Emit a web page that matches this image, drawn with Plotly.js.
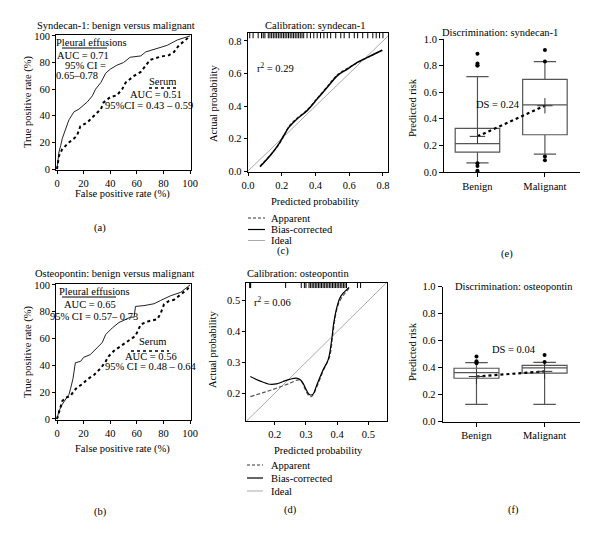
<!DOCTYPE html>
<html><head><meta charset="utf-8">
<script src="https://cdn.plot.ly/plotly-3.0.1.min.js"></script>
<style>body{margin:0;background:#fff}#chart{width:600px;height:537px}</style>
</head><body><div id="chart"></div>
<script>
// ---------- DATA ----------
// (a) ROC syndecan-1
const rocA_pleuralFPR = [0, 1.5, 2.8, 4, 6.5, 9, 12.8, 16.5, 22.8, 26.6, 29, 33, 36.6, 40, 45, 50, 55, 63, 66.7, 73, 83, 90.5, 98, 100];
const rocA_pleuralTPR = [0, 12.8, 17.8, 23, 30, 37, 43, 45, 50.4, 55, 60, 65, 72, 75, 78, 80, 84, 85, 88, 90, 93, 97, 99, 100];
const rocA_serumFPR = [0, 0.75, 1.5, 4, 6.5, 9, 12.8, 15, 17.5, 22.8, 27.8, 33, 35, 40, 45, 49, 51.6, 58, 63, 66.7, 70, 78, 84, 88, 91.7, 96.7, 100];
const rocA_serumTPR = [0, 7.8, 10, 15, 17.8, 20, 23, 25, 32, 35, 40, 45, 50, 54, 55.4, 60, 65, 70, 73, 78, 82, 84.5, 85.5, 88, 93, 97, 100];
// (b) ROC osteopontin
const rocB_pleuralFPR = [0, 1.5, 4, 6.5, 9, 10.3, 12, 13.8, 17.8, 20, 25, 30, 34, 36.6, 41.6, 46.6, 51.6, 55.4, 58, 59, 65.4, 73, 78, 85.5, 93, 98, 100];
const rocB_pleuralTPR = [0, 6, 11, 14.7, 18.4, 23, 30, 42, 43, 46, 48, 53, 57, 63, 68, 72, 74, 76, 76, 84, 84.6, 86, 88.5, 92, 94.5, 98, 100];
const rocB_serumFPR = [0, 1.5, 4, 6.5, 10, 12.8, 15, 19, 22.8, 28, 33, 36.6, 39, 43, 48, 53, 59, 63, 69, 75.4, 78, 80.5, 84, 88, 93, 98, 100];
const rocB_serumTPR = [0, 5, 13.4, 16, 17, 21, 23.4, 26, 29.6, 33, 38, 43, 47, 51, 54.5, 58, 62, 70.6, 73, 74.4, 79, 85.6, 88, 89, 93, 96.8, 100];
// (c) calibration syndecan-1
const calC_pred = [0.071, 0.134, 0.184, 0.213, 0.243, 0.292, 0.352, 0.411, 0.47, 0.53, 0.589, 0.648, 0.708, 0.767, 0.796];
const calC_bias = [0.026, 0.098, 0.169, 0.22, 0.27, 0.322, 0.373, 0.444, 0.515, 0.587, 0.627, 0.668, 0.699, 0.729, 0.743];
const calC_app  = [0.03, 0.1, 0.165, 0.216, 0.276, 0.326, 0.378, 0.449, 0.52, 0.592, 0.632, 0.665, 0.698, 0.728, 0.745];
const calC_rug = [0.01, 0.03, 0.06, 0.08, 0.09, 0.10, 0.12, 0.13, 0.14, 0.15, 0.16, 0.17, 0.18, 0.19, 0.20, 0.21, 0.22, 0.23, 0.24, 0.25, 0.26, 0.27, 0.28, 0.29, 0.30, 0.31, 0.32, 0.33, 0.35, 0.37, 0.39, 0.41, 0.43, 0.45, 0.47, 0.49, 0.52, 0.55, 0.57, 0.60, 0.63, 0.65, 0.68, 0.71, 0.74, 0.76, 0.78, 0.80];
// (d) calibration osteopontin
const calD_predBias = [0.122, 0.152, 0.184, 0.205, 0.227, 0.248, 0.269, 0.28, 0.291, 0.301, 0.312, 0.323, 0.333, 0.355, 0.371, 0.381, 0.389, 0.397, 0.408, 0.419, 0.429, 0.438];
const calD_bias     = [0.254, 0.24, 0.229, 0.23, 0.238, 0.245, 0.249, 0.245, 0.232, 0.211, 0.195, 0.197, 0.222, 0.276, 0.308, 0.362, 0.427, 0.47, 0.507, 0.524, 0.534, 0.543];
const calD_predApp  = [0.122, 0.163, 0.205, 0.248, 0.275, 0.286, 0.296, 0.307, 0.317, 0.328, 0.355, 0.376, 0.385, 0.394, 0.403, 0.413, 0.429, 0.438];
const calD_app      = [0.189, 0.202, 0.216, 0.232, 0.243, 0.238, 0.216, 0.195, 0.189, 0.205, 0.272, 0.319, 0.383, 0.448, 0.486, 0.507, 0.529, 0.54];
const calD_rug = [0.12, 0.121, 0.123, 0.235, 0.285, 0.295, 0.30, 0.31, 0.315, 0.32, 0.325, 0.33, 0.335, 0.34, 0.345, 0.35, 0.355, 0.36, 0.365, 0.37, 0.375, 0.38, 0.385, 0.39, 0.395, 0.40, 0.405, 0.41, 0.415, 0.42, 0.425, 0.43, 0.465, 0.475];
const idealLine = [0, 1];
// (e),(f) discrimination
const groups = ['Benign', 'Malignant'];
const boxE = {q1:[0.15, 0.28], median:[0.213, 0.505], q3:[0.328, 0.697], lower:[0.068, 0.135], upper:[0.717, 0.83], mean:[0.268, 0.498]};
const outE_benign = [0.89, 0.815, 0.80, 0.80, 0.065, 0.045, 0.01, 0.0];
const outE_malig = [0.917, 0.83, 0.117, 0.088];
const dsE = 'DS = 0.24';
const boxF = {q1:[0.322, 0.36], median:[0.364, 0.398], q3:[0.396, 0.417], lower:[0.128, 0.128], upper:[0.437, 0.44], mean:[0.335, 0.373]};
const outF_benign = [0.483, 0.447, 0.435, 0.435];
const outF_malig = [0.495, 0.442];
const dsF = 'DS = 0.04';

// ---------- LAYOUT HELPERS ----------
const F = 'Liberation Serif, Times New Roman, serif';
const FS = 10.5;
const W = 600, H = 537;
const dx = (a, b) => [a / W, b / W];
const dy = (t, b) => [1 - b / H, 1 - t / H];
function ax(extra) {
  return Object.assign({showline:true, linecolor:'#000', linewidth:1, ticks:'outside', ticklen:3, tickwidth:1,
    tickcolor:'#000', showgrid:false, zeroline:false, fixedrange:true,
    tickfont:{family:F, size:FS, color:'#000'}}, extra);
}
function ann(text, px, py, o) {
  return Object.assign({text:text, x:px / W, y:1 - py / H, xref:'paper', yref:'paper', showarrow:false,
    xanchor:'center', yanchor:'middle', borderpad:0, font:{family:F, size:FS, color:'#000'}}, o || {});
}
function hline(x0, x1, py, line) {
  return {type:'line', xref:'paper', yref:'paper', x0:x0 / W, x1:x1 / W, y0:1 - py / H, y1:1 - py / H, line:line};
}

const traces = [];
// (a)
traces.push({x:rocA_pleuralFPR, y:rocA_pleuralTPR, xaxis:'x', yaxis:'y', mode:'lines', line:{color:'#222', width:1}});
traces.push({x:rocA_serumFPR, y:rocA_serumTPR, xaxis:'x', yaxis:'y', mode:'lines', line:{color:'#000', width:2, dash:'dot'}});
// (b)
traces.push({x:rocB_pleuralFPR, y:rocB_pleuralTPR, xaxis:'x4', yaxis:'y4', mode:'lines', line:{color:'#222', width:1}});
traces.push({x:rocB_serumFPR, y:rocB_serumTPR, xaxis:'x4', yaxis:'y4', mode:'lines', line:{color:'#000', width:2, dash:'dot'}});
// (c)
traces.push({x:idealLine, y:idealLine, xaxis:'x2', yaxis:'y2', mode:'lines', line:{color:'#aaa', width:1}});
traces.push({x:calC_pred, y:calC_app, xaxis:'x2', yaxis:'y2', mode:'lines', line:{color:'#444', width:1.2, dash:'3px,2px', shape:'spline'}});
traces.push({x:calC_pred, y:calC_bias, xaxis:'x2', yaxis:'y2', mode:'lines', line:{color:'#000', width:1.5, shape:'spline'}});
traces.push({x:calC_rug, y:calC_rug.map(() => 0.838), xaxis:'x2', yaxis:'y2', mode:'markers',
  marker:{symbol:'line-ns-open', size:5, color:'#000', line:{color:'#000', width:1}}});
// (d)
traces.push({x:idealLine, y:idealLine, xaxis:'x5', yaxis:'y5', mode:'lines', line:{color:'#aaa', width:1}});
traces.push({x:calD_predApp, y:calD_app, xaxis:'x5', yaxis:'y5', mode:'lines', line:{color:'#555', width:1.2, dash:'4px,2px', shape:'spline'}});
traces.push({x:calD_predBias, y:calD_bias, xaxis:'x5', yaxis:'y5', mode:'lines', line:{color:'#000', width:1.2, shape:'spline'}});
traces.push({x:calD_rug, y:calD_rug.map(() => 0.552), xaxis:'x5', yaxis:'y5', mode:'markers',
  marker:{symbol:'line-ns-open', size:5, color:'#000', line:{color:'#000', width:1}}});
// (e),(f) boxes
function boxes(b, outB, outM, xa, ya) {
  traces.push({type:'box', x:[0, 1], q1:b.q1, median:b.median, q3:b.q3, lowerfence:b.lower, upperfence:b.upper,
    xaxis:xa, yaxis:ya, width:0.66, whiskerwidth:0.5, boxpoints:false, fillcolor:'rgba(255,255,255,0)',
    line:{color:'#555', width:1.2}});
  traces.push({x:[0, 1], y:b.mean, xaxis:xa, yaxis:ya, mode:'lines', line:{color:'#000', width:2.2, dash:'dot'}});
  traces.push({x:[0, 1], y:b.mean, xaxis:xa, yaxis:ya, mode:'markers',
    marker:{symbol:'cross-thin-open', size:11, color:'#333', line:{color:'#333', width:1}}});
  traces.push({x:outB.map(() => 0), y:outB, xaxis:xa, yaxis:ya, mode:'markers', marker:{color:'#000', size:4}});
  traces.push({x:outM.map(() => 1), y:outM, xaxis:xa, yaxis:ya, mode:'markers', marker:{color:'#000', size:4}});
}
boxes(boxE, outE_benign, outE_malig, 'x3', 'y3');
boxes(boxF, outF_benign, outF_malig, 'x6', 'y6');

const rocTicks = [0, 20, 40, 60, 80, 100];
const layout = {
  width:W, height:H, margin:{l:0, r:0, t:0, b:0}, showlegend:false,
  paper_bgcolor:'#fff', plot_bgcolor:'rgba(0,0,0,0)',
  font:{family:F, size:FS, color:'#000'},
  // (a)
  xaxis: ax({domain:dx(56, 191), range:[-0.75, 100.75], tickvals:rocTicks, mirror:true, anchor:'y'}),
  yaxis: ax({domain:dy(34.5, 170), range:[-0.75, 101.1], tickvals:rocTicks, mirror:true, anchor:'x'}),
  // (c)
  xaxis2: ax({domain:dx(247.7, 388), range:[-0.002, 0.83], tickvals:[0, 0.2, 0.4, 0.6, 0.8], tickformat:'.1f', mirror:true, anchor:'y2'}),
  yaxis2: ax({domain:dy(33, 172), range:[-0.006, 0.849], tickvals:[0, 0.2, 0.4, 0.6, 0.8], tickformat:'.1f', mirror:true, anchor:'x2'}),
  // (e)
  xaxis3: ax({domain:dx(444, 580), range:[-0.496, 1.52], tickvals:[0, 1], ticktext:groups, anchor:'y3', ticklen:4}),
  yaxis3: ax({domain:dy(39, 172), range:[0, 1], tickvals:[0, 0.2, 0.4, 0.6, 0.8, 1.0], tickformat:'.1f', anchor:'x3', ticklen:4}),
  // (b)
  xaxis4: ax({domain:dx(56, 191), range:[-0.75, 100.75], tickvals:rocTicks, mirror:true, anchor:'y4'}),
  yaxis4: ax({domain:dy(283.5, 420), range:[-0.75, 101.1], tickvals:rocTicks, mirror:true, anchor:'x4'}),
  // (d)
  xaxis5: ax({domain:dx(246.3, 387), range:[0.109, 0.5596], tickvals:[0.2, 0.3, 0.4, 0.5], tickformat:'.1f', mirror:true, anchor:'y5'}),
  yaxis5: ax({domain:dy(282.7, 421), range:[0.110, 0.558], tickvals:[0.2, 0.3, 0.4, 0.5], tickformat:'.1f', mirror:true, anchor:'x5'}),
  // (f)
  xaxis6: ax({domain:dx(442.7, 580), range:[-0.496, 1.52], tickvals:[0, 1], ticktext:groups, anchor:'y6', ticklen:4}),
  yaxis6: ax({domain:dy(286.7, 421.7), range:[0, 1], tickvals:[0, 0.2, 0.4, 0.6, 0.8, 1.0], tickformat:'.1f', anchor:'x6', ticklen:4}),
  annotations: [
    // titles
    ann('Syndecan-1: benign versus malignant', 116, 25),
    ann('Calibration: syndecan-1', 315, 25),
    ann('Discrimination: syndecan-1', 500, 32),
    ann('Osteopontin: benign versus malignant', 115, 273),
    ann('Calibration: osteopontin', 298, 273),
    ann('Discrimination: osteopontin', 514, 286),
    // axis titles
    ann('False positive rate (%)', 122.5, 194),
    ann('True positive rate (%)', 28, 102, {textangle:-90}),
    ann('False positive rate (%)', 122, 449),
    ann('True positive rate (%)', 28, 352, {textangle:-90}),
    ann('Predicted probability', 315, 201),
    ann('Actual probability', 213, 104, {textangle:-90}),
    ann('Predicted probability', 318, 450),
    ann('Actual probability', 212, 350, {textangle:-90}),
    ann('Predicted risk', 412, 108, {textangle:-90}),
    ann('Predicted risk', 412, 352, {textangle:-90}),
    // ROC (a) labels
    ann('Pleural effusions', 91.5, 42),
    ann('AUC = 0.71', 82.5, 55.5),
    ann('95% CI =', 85, 66),
    ann('0.65–0.78', 76.5, 76),
    ann('Serum', 162.5, 82),
    ann('AUC = 0.51', 155.5, 95),
    ann('95%CI = 0.43 – 0.59', 149, 105.5),
    // ROC (b) labels
    ann('Pleural effusions', 94.5, 291),
    ann('AUC = 0.65', 90, 304),
    ann('95% CI = 0.57– 0.73', 94, 316.5),
    ann('Serum', 152.5, 341),
    ann('AUC = 0.56', 150.5, 356.5),
    ann('95% CI = 0.48 – 0.64', 151, 366.5),
    // r2
    ann('r<sup>2</sup> = 0.29', 275, 68),
    ann('r<sup>2</sup> = 0.06', 272, 301),
    // DS
    ann(dsE, 498, 104),
    ann(dsF, 514, 349),
    // legends (c)
    ann('Apparent', 270, 218, {xanchor:'left'}),
    ann('Bias-corrected', 270, 229.5, {xanchor:'left'}),
    ann('Ideal', 270, 240.5, {xanchor:'left'}),
    // legends (d)
    ann('Apparent', 270, 465, {xanchor:'left'}),
    ann('Bias-corrected', 270, 478, {xanchor:'left'}),
    ann('Ideal', 270, 491, {xanchor:'left'}),
    // panel labels
    ann('(a)', 100, 228), ann('(c)', 283, 251), ann('(e)', 507, 254),
    ann('(b)', 100, 512), ann('(d)', 290, 510), ann('(f)', 513, 510)
  ],
  shapes: [
    hline(62, 107, 48, {color:'#000', width:1}),
    hline(149, 177, 88, {color:'#000', width:1.5, dash:'dot'}),
    hline(62, 116, 297, {color:'#000', width:1}),
    hline(131, 169, 351, {color:'#000', width:1.5, dash:'dot'}),
    hline(248, 265, 218, {color:'#333', width:1, dash:'3px,2px'}),
    hline(248, 265, 229.5, {color:'#000', width:1.2}),
    hline(248, 265, 240.5, {color:'#aaa', width:1}),
    hline(247, 263, 465, {color:'#333', width:1, dash:'3px,2px'}),
    hline(247, 263, 478, {color:'#000', width:1.2}),
    hline(247, 263, 491, {color:'#aaa', width:1})
  ]
};
Plotly.newPlot('chart', traces, layout, {staticPlot:true, displayModeBar:false});
</script></body></html>
